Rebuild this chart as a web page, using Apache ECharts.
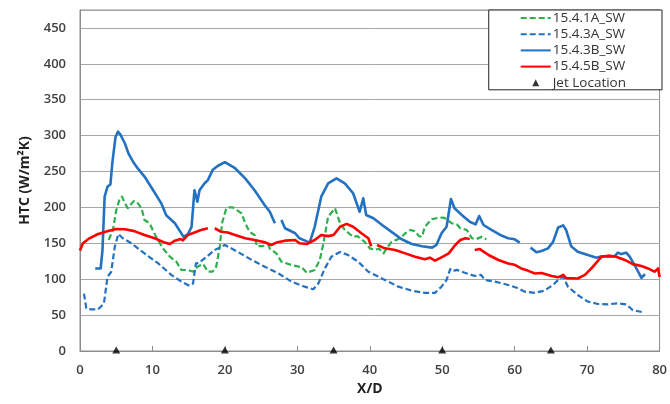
<!DOCTYPE html>
<html>
<head>
<meta charset="utf-8">
<script src="https://cdn.jsdelivr.net/npm/echarts@6/dist/echarts.min.js"></script>
<style>
  html, body { margin: 0; padding: 0; background: #fff; }
  #chart { width: 670px; height: 404px; }
</style>
</head>
<body>
<div id="chart"></div>
<script>
// Heat transfer coefficient along the wall, [X/D, HTC] pairs; null marks a break in the trace
const htc_1541A = [[3.96,154.6],[4.55,168.6],[5.0,196],[5.5,212.7],[5.8,215],[6.2,205.7],[6.6,199],[7.0,204],[7.45,209],[8.0,205.7],[8.5,198.8],[8.9,182.5],[9.6,178],[10.5,159],[11.45,143],[12.4,131.4],[13.3,124.4],[14.0,112.8],[14.9,112.8],[15.6,110.5],[16.2,117.4],[17.0,121],[17.65,110.5],[18.3,110.5],[18.8,117.4],[19.3,145],[19.6,178],[20.2,198.8],[20.6,200],[21.1,200],[21.7,196],[22.3,191.8],[22.8,178],[23.4,166],[24.1,161.6],[24.4,146],[25.1,146],[26.0,147.7],[26.2,142.5],[27.1,136],[27.8,124.4],[29.2,119.8],[30.6,116.6],[31.3,109],[32.4,112.8],[33.1,126.8],[33.6,150],[34.25,187],[35.2,198.8],[35.9,178],[36.55,168.6],[37.7,159],[38.3,160],[39.3,152],[40.0,143],[40.7,141],[41.3,142.5],[41.9,136],[42.3,142.5],[43.0,152],[44.2,157],[44.9,164],[45.6,168.6],[46.2,167],[46.8,160],[47.2,159],[47.6,173],[48.55,183.5],[49.7,186],[50.3,185.5],[51.3,178],[52.0,176.5],[52.5,171],[53.4,168.6],[54.1,157],[54.6,155.6],[55.45,159],[56.1,155.6]];

const htc_1543A = [[0.55,80],[0.87,59.5],[1.5,58],[2.5,58],[3.3,66],[3.8,103.5],[4.3,110],[4.8,145],[5.3,163],[5.9,157],[7.1,150],[8.9,136],[10.8,122],[12.6,106],[14.0,96.6],[15.1,91],[15.6,94],[16.0,122],[16.4,122.5],[17.2,129],[18.6,140.7],[20.0,147.7],[21.8,138],[23.7,126.8],[25.5,117.4],[27.4,108],[29.2,96.6],[31.0,89.6],[32.2,86],[32.9,94],[33.8,115],[34.7,131.4],[35.9,138],[37.0,133.7],[38.4,124.4],[39.8,110.5],[42.1,99],[43.95,89.6],[45.8,84],[47.6,81],[49.0,81],[49.9,89.6],[50.6,99],[51.1,114],[51.4,111],[52.0,113],[53.1,109],[54.5,104.5],[55.35,106],[55.9,99],[57.3,96.6],[59.1,92],[60.3,88],[61.4,82.6],[62.8,81],[64.1,84],[65.3,92],[66.2,101],[66.7,103.5],[67.35,89.6],[68.7,78],[70.1,68.7],[71.5,65.5],[72.9,65],[74.25,66.4],[75.4,65],[76.3,57],[77.7,54]];

const htc_1543B = [[2.1,115],[2.85,115],[3.1,140],[3.4,215],[3.8,229],[4.2,232],[4.46,262],[4.9,298],[5.24,305.5],[5.6,301],[6.2,289],[6.7,275],[7.3,264],[8.0,254],[8.9,243],[10.1,224],[11.2,206],[11.9,189],[13.1,178],[14.3,159],[14.9,163],[15.4,173],[15.8,224],[16.2,208],[16.5,224],[17.2,233.6],[17.65,238],[18.3,252],[19.0,257.7],[20.0,263],[21.4,254.6],[22.8,240.5],[24.1,224],[25.5,203],[26.2,194],[26.9,178],[27.3,null],[27.8,182.5],[28.3,171],[29.7,164],[30.3,157],[31.7,151],[32.4,173],[33.3,215],[34.25,233.6],[35.4,240.5],[36.55,233.6],[37.7,219.7],[38.6,194],[39.1,212.7],[39.5,189.5],[40.5,185],[41.7,175.5],[43.0,166],[44.4,155.6],[45.8,149],[47.2,146],[48.6,144],[49.2,147.7],[49.9,164],[50.6,173],[51.2,211.7],[51.7,198.8],[52.7,189.5],[53.8,180],[54.6,176.4],[55.1,188],[55.7,175.5],[56.8,168.6],[58.0,161.6],[59.1,157],[60.0,155.6],[60.7,151],[61.4,null],[62.2,144],[63.0,137.5],[63.7,139.3],[64.6,143],[65.3,152],[66.0,172],[66.7,175],[67.1,168.6],[67.8,146],[68.7,138.3],[70.1,133.7],[71.3,130],[72.0,132],[72.9,131.4],[73.8,132],[74.25,137],[74.7,135],[75.4,137],[75.9,131],[76.8,115],[77.5,102],[78.0,107]];

const htc_1545B = [[0,140],[0.4,150],[1.3,157],[2.5,163],[3.9,167],[5.0,170],[6.2,169.5],[7.5,167],[8.9,161.6],[10.3,157],[11.7,151],[12.4,149],[13.1,153.7],[13.9,156],[14.2,154],[14.9,161.6],[15.8,165],[16.7,168.6],[17.65,171],[18.0,null],[18.6,171],[19.5,166],[20.4,165],[21.4,161.6],[22.8,157],[24.1,154.6],[25.5,151.4],[26.4,147.7],[27.1,151],[28.3,153.7],[29.7,154.6],[30.3,150],[31.3,149],[32.4,154.6],[33.3,161.6],[34.25,160],[35.0,161.6],[35.9,173],[36.8,177],[37.7,173],[38.85,164],[39.8,157],[40.2,146],[40.6,null],[41.0,147.7],[42.1,143],[43.5,140.7],[44.9,136],[46.25,131.4],[47.6,127.8],[48.3,130],[49.0,125.8],[49.9,130.5],[50.9,136],[51.8,147.7],[52.5,154.6],[53.2,157],[53.8,156],[54.1,null],[54.5,140.7],[55.2,142],[56.4,133.7],[57.75,126.8],[59.1,122],[60.0,120],[60.9,115],[61.8,112],[62.8,108],[63.7,108.6],[65.1,104.5],[66.0,102.6],[66.7,106],[67.1,101.5],[68.7,101],[69.7,106],[70.8,117.4],[72.0,131.4],[72.9,132.8],[74.0,131.4],[75.2,126.8],[76.3,121],[77.5,118.4],[78.4,115],[79.3,110.5],[79.8,115],[80,103]];

// Jet positions along the wall (X/D), drawn on the baseline
const jetX = [5, 20, 35, 50, 65];

const names = ['15.4.1A_SW', '15.4.3A_SW', '15.4.3B_SW', '15.4.5B_SW', 'Jet Location'];
const yTicks = [0, 50, 100, 150, 200, 250, 300, 350, 400, 450];

const FONT = '"Open Sans", Lato, sans-serif';
const BLUE = '#2372c2';
const GREEN = '#2cb04c';
const RED = '#ff0000';

// Small triangle inside a 30x7 icon box (the two bare move-to points fix the box extent)
const JET_ICON = 'path://M0,0 M30,7 M15,0 L18.5,7 L11.5,7 Z';

const chart = echarts.init(document.getElementById('chart'), null, { renderer: 'canvas' });

function lineSeries(name, data, color, width, type) {
  return {
    name: name,
    type: 'line',
    data: data,
    showSymbol: false,
    symbol: 'none',
    connectNulls: false,
    smooth: false,
    lineStyle: { color: color, width: width, type: type, cap: 'butt', join: 'round' },
    itemStyle: { color: color },
    emphasis: { disabled: true },
    z: 3
  };
}

function lineLegendItem(name) {
  return { name: name, itemStyle: { opacity: 0 } };
}

chart.setOption({
  animation: false,
  textStyle: { fontFamily: FONT },
  grid: {
    left: 80, right: 9, top: 10, bottom: 53,
    show: true, borderColor: '#8c8c8c', borderWidth: 1, backgroundColor: 'transparent'
  },
  legend: {
    right: 8, top: 10,
    orient: 'vertical',
    align: 'left',
    backgroundColor: '#fff',
    borderColor: '#222',
    borderWidth: 1,
    padding: [1, 36, 0, 31],
    itemWidth: 30,
    itemHeight: 7,
    itemGap: 2.2,
    selectedMode: false,
    textStyle: { fontFamily: FONT, fontSize: 13.5, color: '#333', padding: [0, 0, 0, -3] },
    data: [
      lineLegendItem(names[0]),
      lineLegendItem(names[1]),
      lineLegendItem(names[2]),
      lineLegendItem(names[3]),
      { name: names[4], icon: JET_ICON }
    ]
  },
  xAxis: {
    type: 'value',
    min: 0, max: 80, interval: 10,
    name: 'X/D',
    nameLocation: 'middle',
    nameGap: 30,
    nameTextStyle: { fontFamily: FONT, fontSize: 14, fontWeight: 'bold', color: '#222' },
    axisLine: { show: true, onZero: false, lineStyle: { color: '#8c8c8c', width: 1 } },
    axisTick: { show: true, inside: true, length: 5, lineStyle: { color: '#8c8c8c' } },
    axisLabel: { margin: 13, fontFamily: FONT, fontSize: 13, fontWeight: 600, color: '#404040' },
    splitLine: { show: false }
  },
  yAxis: {
    type: 'value',
    min: 0, max: 475, interval: 50,
    name: 'HTC (W/m²K)',
    nameLocation: 'middle',
    nameGap: 48,
    nameRotate: 90,
    nameTextStyle: { fontFamily: FONT, fontSize: 14, fontWeight: 'bold', color: '#222' },
    axisLine: { show: true, lineStyle: { color: '#8c8c8c', width: 1 } },
    axisTick: { show: false },
    axisLabel: {
      margin: 14, fontFamily: FONT, fontSize: 13, fontWeight: 600, color: '#404040',
      formatter: function (v) { return yTicks.indexOf(v) >= 0 ? String(v) : ''; }
    },
    splitLine: { show: true, lineStyle: { color: '#a6a6a6', width: 1 } }
  },
  series: [
    lineSeries(names[0], htc_1541A, GREEN, 2.2, [6, 3]),
    lineSeries(names[1], htc_1543A, BLUE, 2.2, [6, 3]),
    lineSeries(names[2], htc_1543B, BLUE, 2.6, 'solid'),
    lineSeries(names[3], htc_1545B, RED, 2.6, 'solid'),
    {
      name: names[4],
      type: 'scatter',
      data: jetX.map(function (x) { return [x, 0]; }),
      symbol: 'triangle',
      symbolSize: [8, 7],
      symbolOffset: [0, -1],
      itemStyle: { color: '#000' },
      clip: false,
      silent: true,
      z: 5
    }
  ]
});
</script>
</body>
</html>
